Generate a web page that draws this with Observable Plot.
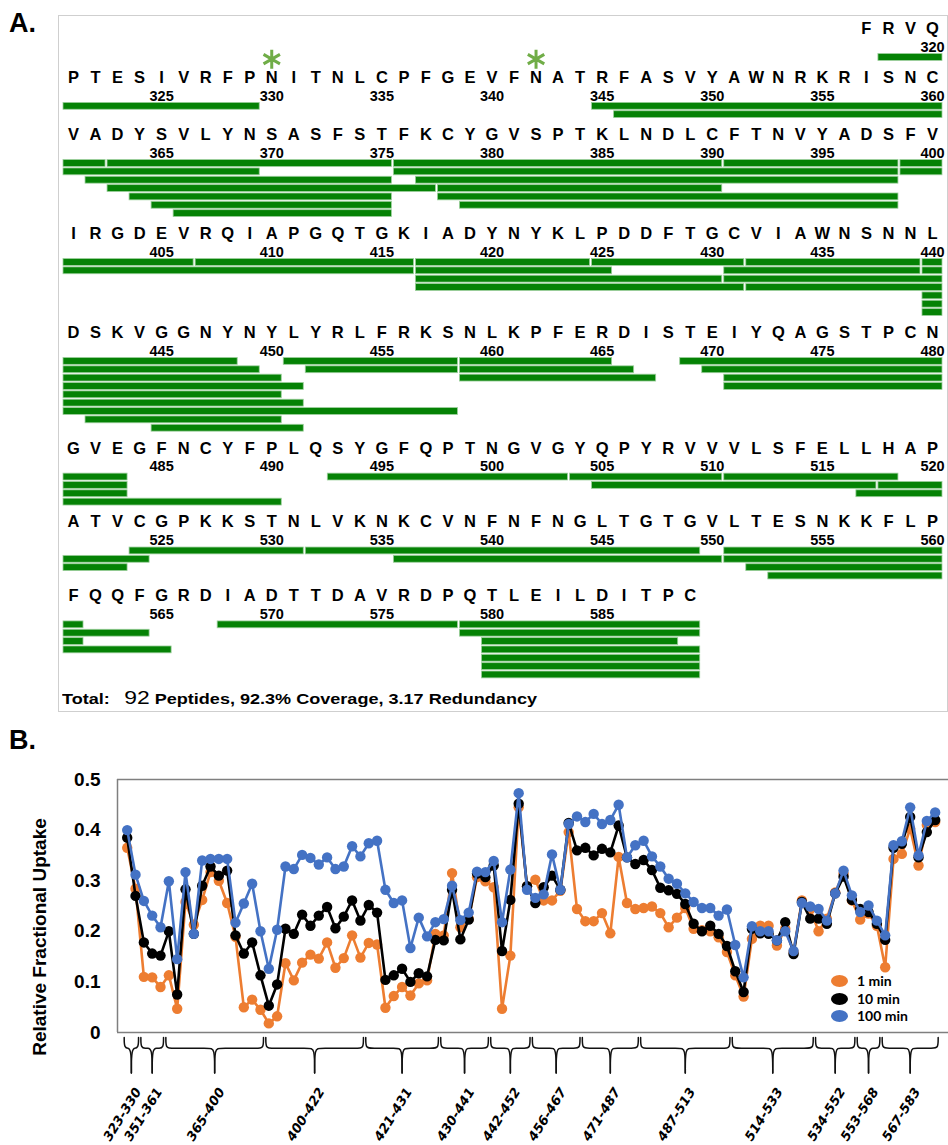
<!DOCTYPE html>
<html><head><meta charset="utf-8">
<script src="https://cdn.jsdelivr.net/npm/d3@7"></script>
<script src="https://cdn.jsdelivr.net/npm/@observablehq/plot@0.6"></script>
<style>
body{margin:0;background:#fff;overflow:hidden}
#root{position:relative;width:948px;height:1145px;font-family:"Liberation Sans",Arial,sans-serif;color:#000}
.abs{position:absolute}
</style></head><body><div id="root"></div>
<script>
// ---------- Panel A data ----------
const seqStart = 317;
const sequence = "FRVQ" +
  "PTESIVRFPNITNLCPFGEVFNATRFASVYAWNRKRISNC" +
  "VADYSVLYNSASFSTFKCYGVSPTKLNDLCFTNVYADSFV" +
  "IRGDEVRQIAPGQTGKIADYNYKLPDDFTGCVIAWNSNNL" +
  "DSKVGGNYNYLYRLFRKSNLKPFERDISTEIYQAGSTPCN" +
  "GVEGFNCYFPLQSYGFQPTNGVGYQPYRVVVLSFELLHAP" +
  "ATVCGPKKSTNLVKNKCVNFNFNGLTGTGVLTESNKKFLP" +
  "FQQFGRDIADTTDAVRDPQTLEILDITPC";
const glycoSites = [330, 342];
// [start residue, end residue, track]
const peptides = [
  [318,320,0],
  [321,329,0],[345,360,0],[346,360,1],
  [361,362,0],[363,375,0],[376,390,0],[391,398,0],[399,400,0],
  [361,369,1],[376,398,1],[399,400,1],
  [362,375,2],[377,398,2],
  [363,377,3],[378,390,3],
  [364,375,4],[378,398,4],
  [365,375,5],[379,398,5],
  [366,375,6],
  [401,406,0],[407,416,0],[417,424,0],[425,431,0],[432,439,0],[440,440,0],
  [401,416,1],[417,425,1],[431,439,1],[440,440,1],
  [417,430,2],[431,440,2],
  [417,431,3],[432,440,3],
  [440,440,4],[440,440,5],[440,440,6],
  [441,448,0],[451,458,0],[459,465,0],[469,480,0],
  [441,449,1],[452,458,1],[459,466,1],[470,480,1],
  [441,450,2],[459,467,2],[471,480,2],
  [441,451,3],[471,480,3],
  [441,450,4],[441,451,5],[441,458,6],[442,450,7],[445,451,8],
  [481,483,0],[493,503,0],[504,510,0],[511,518,0],
  [481,483,1],[505,517,1],[518,520,1],
  [481,483,2],[517,520,2],
  [481,490,3],
  [524,531,0],[532,549,0],[551,560,0],
  [521,524,1],[536,550,1],[551,560,1],
  [521,523,2],[552,560,2],
  [553,560,3],
  [561,561,0],[568,578,0],[579,589,0],
  [561,564,1],[579,589,1],
  [561,561,2],[580,588,2],
  [561,565,3],[580,589,3],
  [580,589,4],[580,589,5],[580,589,6]
];
const totalPeptides = 92, coverage = 92.3, redundancy = 3.17;

// ---------- Panel B data ----------
const seriesNames = ["1 min", "10 min", "100 min"];
const seriesColors = ["#ED7D31", "#000000", "#4472C4"];
const uptake1 = [0.365,0.284,0.110,0.109,0.090,0.113,0.047,0.258,0.213,0.262,
 0.317,0.300,0.256,0.189,0.050,0.065,0.045,0.018,0.032,0.137,
 0.103,0.138,0.154,0.146,0.178,0.128,0.147,0.192,0.148,0.177,
 0.174,0.049,0.072,0.090,0.073,0.097,0.103,0.195,0.192,0.315,
 0.208,0.225,0.307,0.299,0.287,0.047,0.152,0.445,0.289,0.302,
 0.261,0.261,0.280,0.396,0.244,0.220,0.220,0.236,0.196,0.347,
 0.256,0.244,0.246,0.249,0.236,0.208,0.227,0.246,0.205,0.202,
 0.200,0.188,0.159,0.113,0.071,0.185,0.211,0.211,0.172,0.205,
 0.159,0.261,0.244,0.200,0.225,0.277,0.314,0.261,0.223,0.235,
 0.211,0.129,0.343,0.353,0.403,0.330,0.410,0.416];
const uptake10 = [0.385,0.270,0.178,0.156,0.152,0.200,0.075,0.283,0.195,0.290,
 0.328,0.310,0.320,0.192,0.156,0.178,0.113,0.053,0.095,0.205,
 0.195,0.233,0.211,0.231,0.248,0.206,0.229,0.261,0.221,0.252,
 0.237,0.104,0.113,0.126,0.100,0.117,0.111,0.183,0.182,0.282,
 0.184,0.223,0.314,0.307,0.330,0.161,0.262,0.452,0.289,0.256,
 0.287,0.310,0.282,0.414,0.360,0.365,0.350,0.363,0.356,0.409,
 0.346,0.333,0.341,0.321,0.286,0.281,0.274,0.254,0.215,0.200,
 0.211,0.195,0.171,0.121,0.080,0.205,0.196,0.195,0.182,0.218,
 0.155,0.258,0.225,0.225,0.215,0.275,0.308,0.262,0.244,0.238,
 0.215,0.183,0.365,0.373,0.426,0.346,0.396,0.420];
const uptake100 = [0.400,0.312,0.260,0.231,0.208,0.299,0.145,0.317,0.195,0.340,
 0.343,0.343,0.343,0.217,0.255,0.294,0.200,0.126,0.203,0.328,
 0.323,0.351,0.345,0.332,0.346,0.323,0.328,0.368,0.348,0.374,
 0.379,0.282,0.256,0.261,0.167,0.227,0.190,0.218,0.224,0.290,
 0.222,0.237,0.318,0.317,0.339,0.218,0.322,0.473,0.282,0.266,
 0.273,0.352,0.282,0.412,0.427,0.416,0.432,0.412,0.420,0.450,
 0.346,0.370,0.379,0.348,0.328,0.304,0.294,0.275,0.258,0.246,
 0.246,0.231,0.243,0.173,0.109,0.210,0.200,0.200,0.182,0.200,
 0.161,0.256,0.249,0.244,0.221,0.275,0.320,0.271,0.238,0.251,
 0.221,0.192,0.370,0.378,0.445,0.350,0.418,0.435];
const regionLabels = ["323-330","351-361","365-400","400-422","421-431","430-441","442-452",
  "456-467","471-487","487-513","514-533","534-552","553-568","567-583"];
const regionCounts = [2,3,12,12,9,6,5,6,7,11,10,5,3,7];
const yTicks = [0, 0.1, 0.2, 0.3, 0.4, 0.5];

// ---------- build page ----------
const root = document.getElementById("root");
function addDiv(html, style) { const d = document.createElement("div"); d.className = "abs"; d.innerHTML = html; Object.assign(d.style, style); root.appendChild(d); return d; }

addDiv("A.", {left: "9px", top: "8px", fontWeight: "bold", fontSize: "27px"});
addDiv("", {left: "58px", top: "15px", width: "888px", height: "695px", border: "1px solid #cfcfcf"});

// Panel A layout (units = track spacing)
const rowOf = r => Math.floor((r - 281) / 40);
const colOf = r => (r - 281) % 40;
const nRows = rowOf(seqStart + sequence.length - 1) + 1;
const lanesPerRow = Array(nRows).fill(1);
peptides.forEach(([s, e, l]) => { const r = rowOf(s); lanesPerRow[r] = Math.max(lanesPerRow[r], l + 1); });
const FIRST = 3.35, GAP = 2.5, NUM = 2.1;
const rowY = [0];
for (let r = 1; r < nRows; r++) rowY[r] = rowY[r - 1] + FIRST + (lanesPerRow[r - 1] - 1) + GAP;

const residues = Array.from(sequence, (aa, k) => ({aa, res: seqStart + k}));
const letters = residues.map(d => ({...d, x: colOf(d.res) + 0.5, y: rowY[rowOf(d.res)] - 0.1}));
const numbers = residues.filter(d => d.res % 5 === 0).map(d => ({...d, x: colOf(d.res) + 0.5, y: rowY[rowOf(d.res)] + NUM}));
const bars = peptides.map(([s, e, l]) => {
  const y = rowY[rowOf(s)] + FIRST + l;
  return {x1: colOf(s), x2: colOf(e) + 1, y1: y - 0.41, y2: y + 0.41};
});
const stars = glycoSites.map(r => ({x: colOf(r) + 0.5, y: rowY[rowOf(r)] - 2.3}));

const plotA = Plot.plot({
  width: 948, height: 720, margin: 0,
  x: {domain: [0, 40], range: [62, 943], axis: null},
  y: {domain: [0, 80], range: [29, 697], axis: null},
  marks: [
    Plot.rect(bars, {x1: "x1", x2: "x2", y1: "y1", y2: "y2", fill: "#058205", stroke: "#9ccf9c", strokeWidth: 0.8, insetLeft: 1, insetRight: 1}),
    Plot.text(letters, {x: "x", y: "y", text: "aa", fontSize: 16.5, fontWeight: "bold", fontFamily: "Liberation Sans, Arial, sans-serif", fill: "#000"}),
    Plot.text(numbers, {x: "x", y: "y", text: d => String(d.res), fontSize: 14.5, fontWeight: "bold", fontFamily: "Liberation Sans, Arial, sans-serif", fill: "#000"}),
    Plot.dot(stars, {x: "x", y: "y", symbol: "asterisk", r: 9, stroke: "#70AD47", strokeWidth: 3})
  ]
});
Object.assign(plotA.style, {position: "absolute", left: "0px", top: "0px"});
root.appendChild(plotA);

const totalDiv = addDiv(`<span>Total:</span><span style="font-weight:normal;font-size:19px;font-family:'Liberation Sans Narrow','Liberation Sans',sans-serif;margin-left:12px">${totalPeptides}</span> Peptides, ${coverage}% Coverage, ${redundancy} Redundancy`,
  {left: "62px", top: "687px", fontWeight: "bold", fontSize: "15px", whiteSpace: "nowrap", transformOrigin: "0 50%"});
{
  const w = totalDiv.getBoundingClientRect().width;
  if (w > 0) totalDiv.style.transform = `scaleX(${475 / w})`;
}

// Panel B
addDiv("B.", {left: "9px", top: "725px", fontWeight: "bold", fontSize: "27px"});

const series = seriesNames.map((name, k) => ({name, color: seriesColors[k], values: [uptake1, uptake10, uptake100][k]}));
const xMin = -1.165, xMax = 98.6;
let cursor = 0;
const braces = regionLabels.map((label, k) => {
  const s = cursor, e = cursor + regionCounts[k] - 1; cursor = e + 1;
  return {label, s, e, mid: (s + e) / 2};
});
const TOP = -0.01, ARM = -0.031, TIP = -0.08, W = 0.6;
const bracePts = braces.flatMap((b, k) => {
  const a = b.s - 0.5 + 0.14, c = b.e + 0.5 - 0.14, m = (a + c) / 2;
  const left = [[a, TOP], [a, ARM], [a + W, ARM], [m - W, ARM], [m, ARM], [m, TIP]];
  const right = [[c, TOP], [c, ARM], [c - W, ARM], [m + W, ARM], [m, ARM], [m, TIP]];
  return [...left.map(([x, y]) => ({x, y, key: k + "L"})), ...right.map(([x, y]) => ({x, y, key: k + "R"}))];
});

const seriesMarks = series.flatMap(s => {
  const data = s.values.map((v, i) => ({i, v}));
  return [
    Plot.line(data, {x: "i", y: "v", stroke: s.color, strokeWidth: 2.6}),
    Plot.dot(data, {x: "i", y: "v", fill: s.color, r: 5.2})
  ];
});

const plotB = Plot.plot({
  width: 948, height: 385, marginLeft: 117, marginRight: 0, marginTop: 19, marginBottom: 113,
  x: {domain: [xMin, xMax], axis: null},
  y: {domain: [0, 0.5]},
  marks: [
    Plot.ruleY([0, 0.5], {stroke: "#7f7f7f", strokeWidth: 1.5}),
    Plot.ruleX([xMin], {stroke: "#7f7f7f", strokeWidth: 1.5}),
    Plot.axisY(yTicks, {tickSize: 0, tickPadding: 17, tickFormat: d => d === 0 ? "0" : d.toFixed(1), fontSize: 19, fontWeight: "bold", fontFamily: "Liberation Sans, Arial, sans-serif", label: null}),
    ...seriesMarks,
    Plot.line(bracePts, {x: "x", y: "y", z: "key", curve: "basis", stroke: "#111", strokeWidth: 1.5}),
    Plot.text(braces, {x: "mid", y: -0.112, text: "label", rotate: -58, textAnchor: "end", dx: 7, fontSize: 13, fontWeight: "bold", fontStyle: "italic", fontFamily: "DejaVu Sans, sans-serif", fill: "#000"})
  ]
});
Object.assign(plotB.style, {position: "absolute", left: "0px", top: "760px"});
root.appendChild(plotB);

addDiv("Relative Fractional Uptake", {left: "40px", top: "937px", transform: "translate(-50%,-50%) rotate(-90deg)", whiteSpace: "nowrap", fontWeight: "bold", fontSize: "19px"});

// legend
series.forEach((s, k) => {
  const y = 981 + k * 17.5;
  addDiv("", {left: "831px", top: (y - 6) + "px", width: "17px", height: "12px", borderRadius: "50%", background: s.color});
  addDiv(s.name, {left: "857px", top: (y - 8) + "px", fontFamily: "Lato, sans-serif", fontWeight: "bold", fontSize: "14px", lineHeight: "16px"});
});
</script></body></html>
